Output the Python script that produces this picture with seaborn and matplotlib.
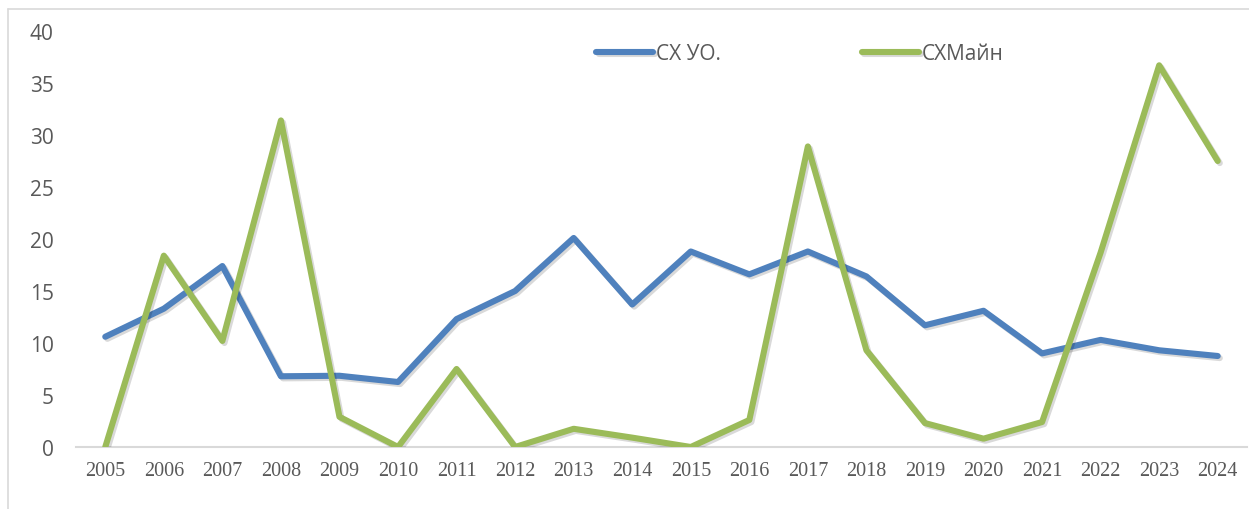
import seaborn as sns
import matplotlib.pyplot as plt
import matplotlib.patheffects as pe
import pandas as pd

years = [str(y) for y in range(2005, 2025)]
cx_uo = [10.6, 13.3, 17.4, 6.8, 6.85, 6.25, 12.3, 15.0, 20.1, 13.7,
         18.8, 16.6, 18.8, 16.4, 11.7, 13.1, 9.0, 10.3, 9.3, 8.75]
cx_main = [0, 18.4, 10.2, 31.4, 2.9, 0, 7.5, 0, 1.75, 0.9,
           0, 2.6, 28.9, 9.3, 2.3, 0.8, 2.4, 18.7, 36.7, 27.5]
series_names = ['СХ УО.', 'СХМайн']

df = pd.DataFrame({
    'year': years * 2,
    'value': cx_uo + cx_main,
    'series': [series_names[0]] * len(years) + [series_names[1]] * len(years),
})

sns.set_style('white')
plt.rcParams['font.family'] = ['Open Sans', 'DejaVu Sans']

fig = plt.figure(figsize=(12.49, 5.10), dpi=100)
ax = fig.add_axes([76 / 1249, 62 / 510, 1171 / 1249, 416 / 510])

shadow = [pe.SimpleLineShadow(offset=(1.5, -1.5), alpha=0.15, shadow_color='black'), pe.Normal()]
sns.lineplot(data=df, x='year', y='value', hue='series', sort=False,
             palette=['#4F81BD', '#9BBB59'], linewidth=4.4, ax=ax,
             path_effects=shadow, solid_capstyle='round', solid_joinstyle='round')

ax.set_xlim(-0.5, len(years) - 0.5)
ax.set_ylim(0, 40)
ax.set_yticks(range(0, 41, 5))
ax.set_xlabel('')
ax.set_ylabel('')
for s in ['top', 'right', 'left']:
    ax.spines[s].set_visible(False)
ax.spines['bottom'].set_color('#D9D9D9')
ax.spines['bottom'].set_linewidth(1.5)
ax.spines['bottom'].set_zorder(0)
ax.tick_params(axis='both', length=0, colors='#595959')
ax.tick_params(axis='y', labelsize=15, pad=16)
for lab in ax.get_xticklabels():
    lab.set_family('Liberation Serif')
    lab.set_fontsize(14.5)
ax.tick_params(axis='x', pad=10)

leg = ax.legend(loc='center', bbox_to_anchor=(800 / 1249, 1 - 55 / 510),
                bbox_transform=fig.transFigure, ncol=2, frameon=False,
                fontsize=15, handlelength=2.7, handletextpad=0.15,
                columnspacing=6.8, labelcolor='#595959')
for h in leg.get_lines():
    h.set_linewidth(4.4)
    h.set_solid_capstyle('round')

# outer chart frame (only left and top edges visible)
fig.add_artist(plt.Line2D([8 / 1249, 8 / 1249], [0, 1 - 10 / 510],
                          transform=fig.transFigure, color='#D9D9D9', linewidth=1.2))
fig.add_artist(plt.Line2D([8 / 1249, 1], [1 - 10 / 510, 1 - 10 / 510],
                          transform=fig.transFigure, color='#D9D9D9', linewidth=1.2))

fig.savefig('out.png', dpi=100)
